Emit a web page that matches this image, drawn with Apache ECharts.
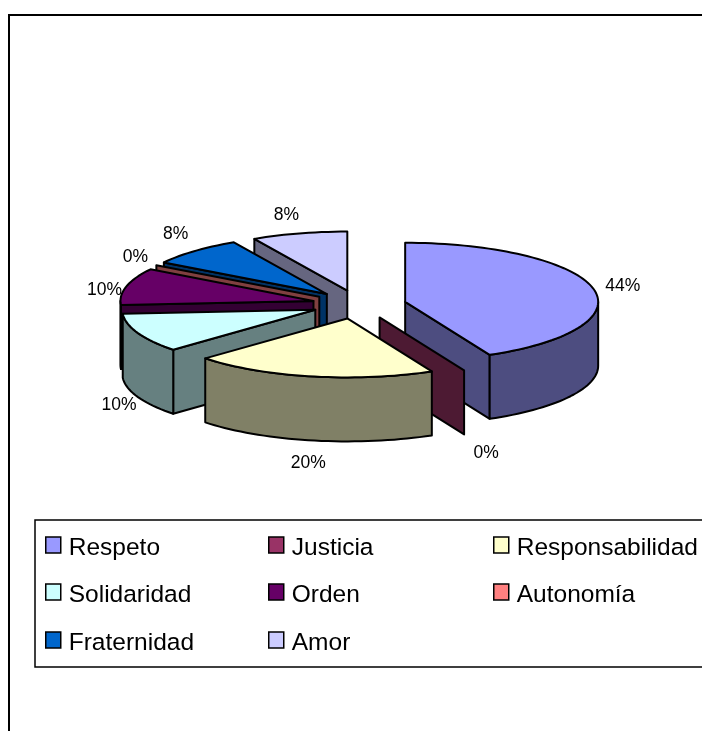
<!DOCTYPE html>
<html>
<head>
<meta charset="utf-8">
<style>html,body{margin:0;padding:0;background:#fff}#c{width:702px;height:731px}</style>
<script src="https://cdn.jsdelivr.net/npm/echarts@6/dist/echarts.min.js"></script>
</head>
<body>
<div id="c"></div>
<script>
// ---- data ----
const categories = ['Respeto','Justicia','Responsabilidad','Solidaridad','Orden','Autonomía','Fraternidad','Amor'];
const shares = [44, 0, 20, 10, 10, 0, 8, 8];
const topColors = ['#9999FF','#993366','#FFFFCC','#CCFFFF','#660066','#FF8080','#0066CC','#CCCCFF'];
const wallColors = ['#4D4D80','#4D1A33','#808066','#668080','#330033','#804040','#003366','#666680'];

// ---- layout ----
const drawOrder = [7,6,5,4,3,0,1,2];
const pie = {cx:359, cy:304.5, rx:193, ry:59, depth:64, explode:47, frontSkew:4.7, apexSkew:12.8};
const labelNudge = [[28,-5],[22,83],[-6,87],[-19,72],[-22,4],[-21,-8],[-19,-17],[-13,-18]];
const legendCols = [45,268,493], legendRows = [536,583,631];
const FONT = '"Liberation Sans", Arial, sans-serif';

const total = shares.reduce((a,b)=>a+b,0);
let run = 0;
const spans = shares.map(v=>{const a=run; run+=v/total*360; return [a,run];});
const rad = d=>d*Math.PI/180;
// projected angle: the front of the tilted pie leans slightly, as in the original 3-D view
const proj = t=>t+pie.frontSkew*Math.min(Math.cos(rad(t)),0);

function sliceChildren(i){
  const [a0,b0] = spans[i], m=(a0+b0)/2;
  const a=proj(a0), b=proj(b0);
  const k = pie.ry/pie.rx;
  const mx = m+pie.apexSkew*Math.min(Math.cos(rad(m)),0)*Math.max(Math.sin(rad(m)),0);
  const ox = pie.cx + pie.explode*Math.sin(rad(mx));
  const oy = pie.cy - pie.explode*k*Math.cos(rad(mx));
  const rim = (t,h=0)=>[ox+pie.rx*Math.sin(rad(t)), oy-pie.ry*Math.cos(rad(t))+h];
  const arc = (s,e,h=0)=>{const p=[];const n=Math.max(1,Math.ceil(Math.abs(e-s)/2));
    for(let j=0;j<=n;j++)p.push(rim(s+(e-s)*j/n,h));return p;};
  const base = {stroke:'#000',lineWidth:2,lineJoin:'round'};
  const wallStyle = Object.assign({fill:wallColors[i]},base);
  const kids = [];
  const plane = t=>({type:'polygon',shape:{points:[[ox,oy],rim(t),rim(t,pie.depth),[ox,oy+pie.depth]]},style:wallStyle});
  if(b>0 && b<180) kids.push(plane(b));
  if(a>180 && a<360) kids.push(plane(a));
  const s=Math.max(a,90), e=Math.min(b,270);
  if(e>s) kids.push({type:'polygon',shape:{points:arc(s,e).concat(arc(e,s,pie.depth))},style:wallStyle});
  if(b>a) kids.push({type:'polygon',shape:{points:[[ox,oy]].concat(arc(a,b))},style:Object.assign({fill:topColors[i]},base)});
  const lp = rim(proj(m));
  kids.push({type:'text',style:{text:Math.round(shares[i]/total*100)+'%',
    x:lp[0]+labelNudge[i][0], y:lp[1]+labelNudge[i][1],
    align:'center',verticalAlign:'middle',fill:'#000',font:'17.5px '+FONT}});
  return kids;
}

const chart = echarts.init(document.getElementById('c'),null,{renderer:'canvas'});
chart.setOption({
  animation:false,
  backgroundColor:'#fff',
  graphic:[
    {type:'rect',silent:true,z:-1,shape:{x:9,y:15,width:760,height:790},style:{fill:'#fff',stroke:'#000',lineWidth:2}},
    {type:'rect',silent:true,z:-1,shape:{x:35,y:520,width:720,height:147},style:{fill:'#fff',stroke:'#000',lineWidth:1.5}}
  ],
  legend:categories.map((n,i)=>({
    show:true,data:[n],selectedMode:false,icon:'rect',orient:'horizontal',padding:0,
    left:legendCols[i%3],top:legendRows[Math.floor(i/3)],
    itemWidth:15,itemHeight:16,
    itemStyle:{borderColor:'#000',borderWidth:1.5},
    formatter:'{t|{name}}',
    textStyle:{rich:{t:{fontFamily:FONT,fontSize:24.5,color:'#000',padding:[7,0,0,3]}}}
  })),
  series:categories.map((n,i)=>({
    type:'custom',name:n,coordinateSystem:'none',silent:true,clip:false,
    z:2+drawOrder.indexOf(i),
    itemStyle:{color:topColors[i]},
    data:[[shares[i]]],
    renderItem:()=>({type:'group',children:sliceChildren(i)})
  }))
});
</script>
</body>
</html>
